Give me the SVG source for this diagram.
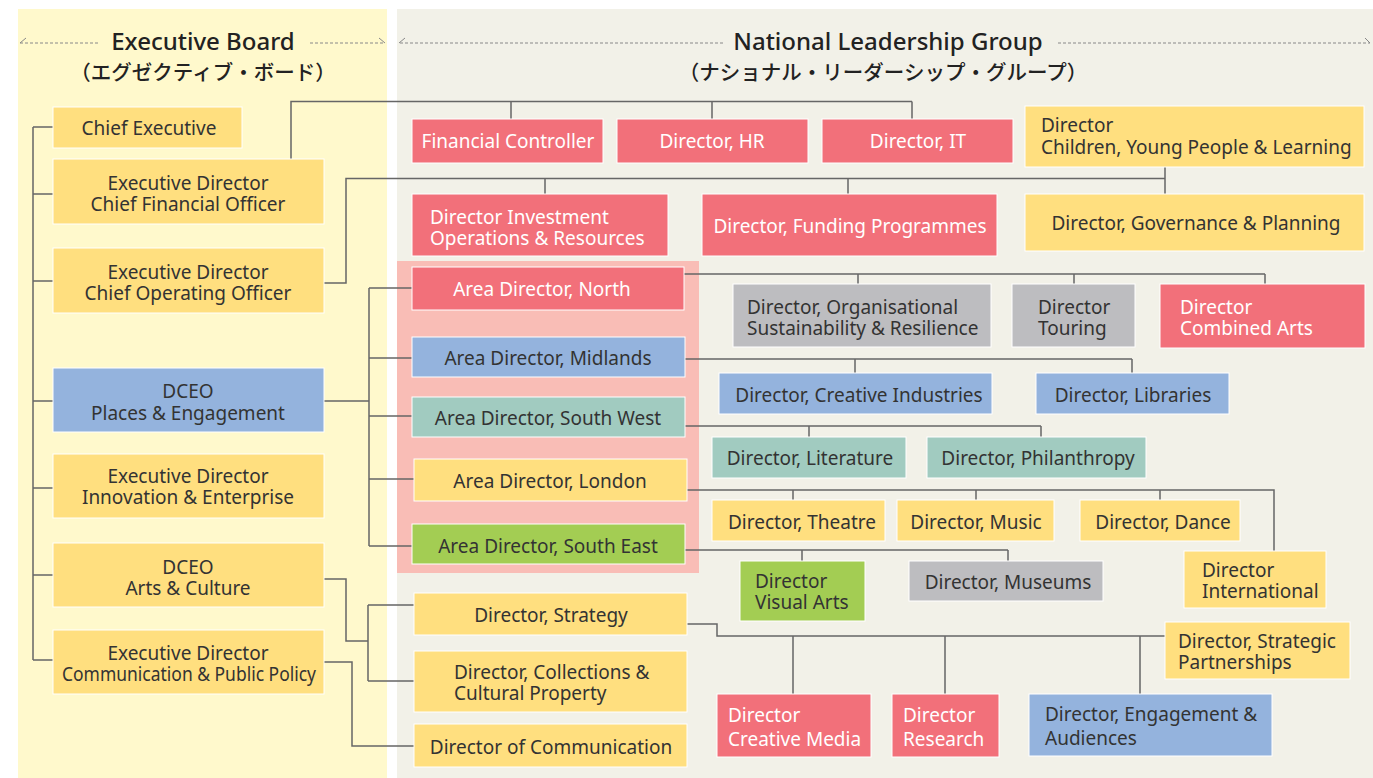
<svg xmlns="http://www.w3.org/2000/svg" width="1373" height="778" viewBox="0 0 1373 778">
<style>
text{font-family:"Noto Sans","Noto Sans CJK JP",sans-serif;font-size:19px;fill:#333}
.w{fill:#fff}
.c{text-anchor:middle}
.h1{font-size:24px;font-weight:500;fill:#222;text-anchor:middle}
.h2{font-size:20.5px;font-weight:500;fill:#222;text-anchor:middle}
.y{fill:#FFDF7F;stroke:#fff;stroke-width:1}
.r{fill:#F2707A;stroke:#fff;stroke-width:1}
.b{fill:#94B3DD;stroke:#fff;stroke-width:1}
.t{fill:#A1CBC0;stroke:#fff;stroke-width:1}
.g{fill:#A3CD53;stroke:#fff;stroke-width:1}
.s{fill:#BDBDC0;stroke:#fff;stroke-width:1}
.ln{fill:none;stroke:#666;stroke-width:1.5}
.dash{fill:none;stroke:#888;stroke-width:1;stroke-dasharray:3 2}
.ah{fill:none;stroke:#888;stroke-width:1}
</style>
<rect x="0" y="0" width="1373" height="778" fill="#fff"/>
<rect x="18" y="9" width="369" height="769" fill="#FFF9CC"/>
<rect x="397" y="9" width="976" height="769" fill="#F2F1E8"/>
<rect x="397" y="261" width="302" height="312" fill="#F9BDB6"/>
<g id="headers">
<path class="dash" d="M20,43H100M310,43H385M400,43H725M1058,43H1370"/>
<path class="ah" d="M26,38L20,43M379,38L385,43M405,38L399,43M1365,38L1370,43"/>
<text class="h1" x="203" y="50">Executive Board</text>
<text class="h2" x="203" y="80">（エグゼクティブ・ボード）</text>
<text class="h1" x="888" y="50">National Leadership Group</text>
<text class="h2" x="883" y="80">（ナショナル・リーダーシップ・グループ）</text>
</g>
<g id="connectors">
<path class="ln" d="M33,127V660M33,127H53M33,194H53M33,281H53M33,401H53M33,488H53M33,575H53M33,660H53"/>
<path class="ln" d="M291,159V101.5H912M511,101.5V119M712,101.5V119M912,101.5V119"/>
<path class="ln" d="M324,283H346V178.5H1165M545,178.5V194M848,178.5V194M1165,167V194"/>
<path class="ln" d="M324,401H369M369,288V546M369,288H412M369,358H412M369,416H412M369,479H414M369,546H412"/>
<path class="ln" d="M684,274H1265M858,274V284M1074,274V284M1265,274V284"/>
<path class="ln" d="M685,359H1132M855,359V373M1132,359V373"/>
<path class="ln" d="M685,426H1041M809,426V437M1041,426V437"/>
<path class="ln" d="M687,490H1274V551M793,490V500M976,490V500M1160,490V500"/>
<path class="ln" d="M685,550H1008M802,550V561M1008,550V561"/>
<path class="ln" d="M324,579H346V641H368M368,605V681M368,605H414M368,681H414"/>
<path class="ln" d="M324,662H352V746H414"/>
<path class="ln" d="M687,624H717V636H1165M793,636V694M945,636V694M1140,636V694"/>
</g>
<g id="chief-executive"><rect class="y" x="53" y="107" width="189" height="41"/><text class="c" x="149" y="135">Chief Executive</text></g>
<g id="cfo"><rect class="y" x="53" y="159" width="271" height="65"/><text class="c" x="188" y="190">Executive Director<tspan x="188" dy="21">Chief Financial Officer</tspan></text></g>
<g id="coo"><rect class="y" x="53" y="248" width="271" height="65"/><text class="c" x="188" y="279">Executive Director<tspan x="188" dy="21">Chief Operating Officer</tspan></text></g>
<g id="dceo-places"><rect class="b" x="53" y="368" width="271" height="64"/><text class="c" x="188" y="398">DCEO<tspan x="188" dy="22">Places &amp; Engagement</tspan></text></g>
<g id="innovation"><rect class="y" x="53" y="454" width="271" height="64"/><text class="c" x="188" y="483">Executive Director<tspan x="188" dy="21">Innovation &amp; Enterprise</tspan></text></g>
<g id="dceo-arts"><rect class="y" x="53" y="543" width="271" height="64"/><text class="c" x="188" y="574">DCEO<tspan x="188" dy="21">Arts &amp; Culture</tspan></text></g>
<g id="communication-policy"><rect class="y" x="53" y="630" width="271" height="64"/><text class="c" x="188" y="660">Executive Director<tspan x="189" dy="21" textLength="254" lengthAdjust="spacingAndGlyphs">Communication &amp; Public Policy</tspan></text></g>
<g id="financial-controller"><rect class="r" x="412" y="119" width="191" height="44"/><text class="c w" x="508" y="148">Financial Controller</text></g>
<g id="director-hr"><rect class="r" x="617" y="119" width="191" height="44"/><text class="c w" x="712" y="148">Director, HR</text></g>
<g id="director-it"><rect class="r" x="822" y="119" width="191" height="44"/><text class="c w" x="918" y="148">Director, IT</text></g>
<g id="children"><rect class="y" x="1025" y="106" width="339" height="61"/><text x="1041" y="132">Director<tspan x="1041" dy="22">Children, Young People &amp; Learning</tspan></text></g>
<g id="investment"><rect class="r" x="412" y="194" width="256" height="62"/><text class="w" x="430" y="224">Director Investment<tspan x="430" dy="21">Operations &amp; Resources</tspan></text></g>
<g id="funding"><rect class="r" x="702" y="194" width="295" height="62"/><text class="c w" x="850" y="233">Director, Funding Programmes</text></g>
<g id="governance"><rect class="y" x="1025" y="194" width="339" height="57"/><text class="c" x="1196" y="230">Director, Governance &amp; Planning</text></g>
<g id="area-north"><rect class="r" x="412" y="267" width="272" height="43"/><text class="c w" x="542" y="296">Area Director, North</text></g>
<g id="area-midlands"><rect class="b" x="412" y="337" width="273" height="40"/><text class="c" x="548" y="365">Area Director, Midlands</text></g>
<g id="area-southwest"><rect class="t" x="412" y="397" width="273" height="40"/><text class="c" x="548" y="425">Area Director, South West</text></g>
<g id="area-london"><rect class="y" x="414" y="459" width="273" height="42"/><text class="c" x="550" y="488">Area Director, London</text></g>
<g id="area-southeast"><rect class="g" x="412" y="524" width="273" height="40"/><text class="c" x="548" y="553">Area Director, South East</text></g>
<g id="organisational"><rect class="s" x="733" y="284" width="258" height="63"/><text x="747" y="314">Director, Organisational<tspan x="747" dy="21">Sustainability &amp; Resilience</tspan></text></g>
<g id="touring"><rect class="s" x="1012" y="284" width="123" height="63"/><text x="1038" y="314">Director<tspan x="1038" dy="21">Touring</tspan></text></g>
<g id="combined-arts"><rect class="r" x="1160" y="284" width="205" height="64"/><text class="w" x="1180" y="314">Director<tspan x="1180" dy="21">Combined Arts</tspan></text></g>
<g id="creative-industries"><rect class="b" x="719" y="373" width="273" height="41"/><text class="c" x="859" y="402">Director, Creative Industries</text></g>
<g id="libraries"><rect class="b" x="1036" y="373" width="193" height="41"/><text class="c" x="1133" y="402">Director, Libraries</text></g>
<g id="literature"><rect class="t" x="712" y="437" width="194" height="41"/><text class="c" x="810" y="465">Director, Literature</text></g>
<g id="philanthropy"><rect class="t" x="927" y="437" width="219" height="41"/><text class="c" x="1038" y="465">Director, Philanthropy</text></g>
<g id="theatre"><rect class="y" x="712" y="500" width="173" height="41"/><text class="c" x="802" y="529">Director, Theatre</text></g>
<g id="music"><rect class="y" x="897" y="500" width="157" height="41"/><text class="c" x="976" y="529">Director, Music</text></g>
<g id="dance"><rect class="y" x="1080" y="500" width="160" height="41"/><text class="c" x="1163" y="529">Director, Dance</text></g>
<g id="international"><rect class="y" x="1184" y="551" width="142" height="57"/><text x="1202" y="577">Director<tspan x="1202" dy="21">International</tspan></text></g>
<g id="visual-arts"><rect class="g" x="740" y="561" width="125" height="60"/><text x="755" y="588">Director<tspan x="755" dy="21">Visual Arts</tspan></text></g>
<g id="museums"><rect class="s" x="909" y="561" width="194" height="40"/><text class="c" x="1008" y="589">Director, Museums</text></g>
<g id="strategy"><rect class="y" x="414" y="593" width="273" height="42"/><text class="c" x="551" y="622">Director, Strategy</text></g>
<g id="collections"><rect class="y" x="414" y="651" width="273" height="61"/><text x="454" y="679">Director, Collections &amp;<tspan x="454" dy="21">Cultural Property</tspan></text></g>
<g id="communication"><rect class="y" x="414" y="724" width="273" height="43"/><text class="c" x="551" y="754">Director of Communication</text></g>
<g id="strategic-partnerships"><rect class="y" x="1165" y="622" width="185" height="57"/><text x="1178" y="648">Director, Strategic<tspan x="1178" dy="21">Partnerships</tspan></text></g>
<g id="creative-media"><rect class="r" x="717" y="694" width="154" height="63"/><text class="w" x="728" y="722">Director<tspan x="728" dy="24">Creative Media</tspan></text></g>
<g id="research"><rect class="r" x="892" y="694" width="107" height="63"/><text class="w" x="903" y="722">Director<tspan x="903" dy="24">Research</tspan></text></g>
<g id="engagement"><rect class="b" x="1029" y="694" width="243" height="62"/><text x="1045" y="721">Director, Engagement &amp;<tspan x="1045" dy="24">Audiences</tspan></text></g>
</svg>
